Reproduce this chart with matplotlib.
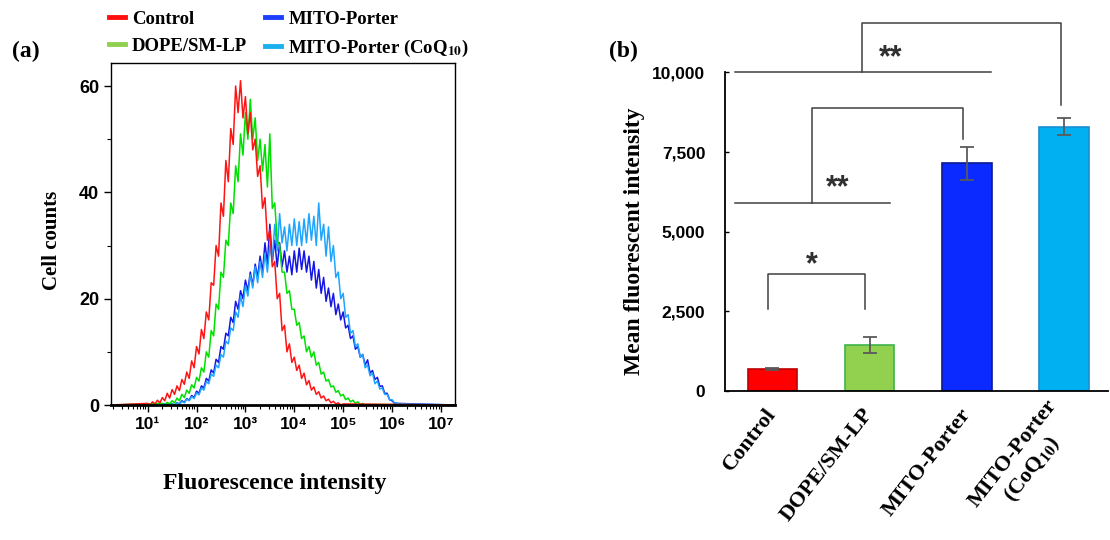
import matplotlib
matplotlib.use('Agg')
import matplotlib.pyplot as plt
from matplotlib.lines import Line2D
import numpy as np

plt.rcParams['mathtext.fontset'] = 'stix'

# ---- (a) flow cytometry histograms, counts every 0.05 decade ----
bin_step = 0.05
ctrl_start = 1.00
ctrl_counts = [0.3, 0.0, 0.6, 0.2, 0.9, 0.4, 1.4, 0.8, 2.2, 1.3,
               2.9, 2.0, 3.6, 2.7, 4.8, 3.9, 6.2, 5.0, 8.3, 7.0,
               11.0, 9.6, 14.2, 12.5, 17.5, 16.0, 23.0, 22.5, 30.0, 28.0,
               38.0, 35.5, 46.0, 42.0, 52.0, 49.0, 60.0, 55.0, 61.0, 54.0,
               58.0, 51.0, 55.0, 48.0, 50.0, 43.0, 45.0, 37.0, 39.0, 31.0,
               33.0, 26.0, 27.0, 20.0, 21.0, 14.0, 15.0, 10.0, 11.5, 8.0,
               9.0, 6.5, 7.5, 5.0, 6.0, 3.8, 4.6, 2.8, 3.4, 2.0,
               2.5, 1.3, 1.7, 0.8, 1.1, 0.4, 0.7, 0.2, 0.4, 0.0, 0.2]
dope_start = 1.30
dope_counts = [0.3, 0.0, 0.5, 0.2, 0.8, 0.4, 1.3, 0.8, 2.0, 1.4,
               2.8, 2.2, 3.8, 3.2, 5.2, 4.5, 7.0, 6.2, 10.0, 9.0,
               14.0, 13.0, 19.0, 18.0, 25.0, 24.0, 31.0, 30.0, 38.0, 36.0,
               45.0, 42.0, 51.0, 47.0, 55.0, 50.0, 57.5, 50.0, 54.0, 46.0,
               50.0, 44.0, 49.0, 41.0, 51.0, 37.0, 38.0, 31.0, 30.0, 25.0,
               25.0, 21.0, 21.5, 18.0, 18.0, 15.0, 15.5, 12.5, 13.0, 10.0,
               11.0, 9.0, 10.0, 7.5, 8.0, 5.8, 6.2, 4.5, 4.8, 3.4,
               3.6, 2.4, 2.7, 1.7, 2.0, 1.0, 1.3, 0.6, 0.9, 0.3,
               0.6, 0.1, 0.3, 0.0, 0.1]
mito_start = 1.50
mito_counts = [0.2, 0.0, 0.4, 0.2, 0.8, 0.5, 1.2, 0.9, 1.8, 1.4,
               2.6, 2.2, 3.6, 3.2, 5.0, 4.5, 6.6, 6.0, 8.6, 8.0,
               11.0, 10.5, 13.5, 13.0, 16.5, 15.5, 19.5, 18.0, 21.5, 20.0,
               23.5, 21.5, 25.0, 22.5, 26.5, 24.0, 28.0, 25.0, 30.5, 26.5,
               34.0, 27.0, 31.0, 26.0, 30.5, 26.0, 29.0, 25.0, 28.0, 24.5,
               29.0, 25.0, 29.5, 25.5, 29.0, 25.0, 28.0, 23.5, 27.0, 22.0,
               25.5, 21.0, 24.0, 19.5, 22.0, 18.5, 21.0, 17.0, 19.0, 16.0,
               17.5, 14.5, 15.0, 12.5, 13.0, 10.5, 11.0, 9.0, 9.5, 7.5,
               8.5, 6.0, 6.5, 4.8, 5.2, 3.5, 3.6, 2.2, 2.2, 1.0,
               0.8, 0.3, 0.3]
coq_start = 1.50
coq_counts = [0.2, 0.0, 0.4, 0.1, 0.7, 0.4, 1.1, 0.8, 1.6, 1.2,
              2.3, 1.9, 3.2, 2.8, 4.4, 4.0, 5.8, 5.4, 7.5, 7.0,
              9.5, 9.0, 12.0, 11.5, 14.5, 14.0, 17.5, 16.5, 20.5, 18.5,
              22.5, 20.5, 24.5, 22.0, 26.0, 23.0, 27.0, 24.0, 28.5, 25.0,
              30.0, 27.0, 34.0, 29.0, 36.0, 30.5, 33.5, 29.0, 34.0, 30.0,
              35.0, 30.0, 34.5, 30.0, 35.0, 30.5, 36.0, 31.0, 35.5, 30.0,
              38.0, 31.0, 34.0, 28.0, 33.5, 27.0, 30.0, 24.0, 25.0, 20.0,
              21.0, 16.5, 17.0, 13.5, 14.0, 11.0, 11.5, 9.0, 9.5, 7.0,
              7.5, 5.5, 6.0, 4.0, 4.5, 3.0, 3.2, 2.0, 2.0, 1.0,
              1.0, 0.4, 0.4, 0.1, 0.2]

hist_labels = ['Control', 'DOPE/SM-LP', 'MITO-Porter',
               r'MITO-Porter (CoQ$_{\mathbf{10}}$)']
hist_colors = ['#ff1414', '#00e000', '#1515e6', '#1ea5ff']
legend_colors = ['#ff1010', '#8fd14f', '#1f3fff', '#1ab0f0']

# ---- (b) mean fluorescent intensity ----
groups = ['Control', 'DOPE/SM-LP', 'MITO-Porter', 'MITO-Porter\n(CoQ$_{\\mathbf{10}}$)']
mfi = [690, 1445, 7140, 8290]
mfi_err = [25, 250, 510, 270]
bar_colors = ['#ff0000', '#92d050', '#0a2aff', '#00b0f0']
bar_edges = ['#c00000', '#3cb44a', '#0a1a90', '#1a8fd0']

SERIF = 'Liberation Serif'
SANS = ['Liberation Sans', 'DejaVu Sans']

fig = plt.figure(figsize=(11.1, 5.4), dpi=100)
ax1 = fig.add_axes([0.1, 0.25, 0.31, 0.634])
ax2 = fig.add_axes([0.653, 0.276, 0.345, 0.590])

xmin, xmax = 10 ** 0.25, 10 ** 7.29
order = [(mito_start, mito_counts, 2), (coq_start, coq_counts, 3),
         (dope_start, dope_counts, 1), (ctrl_start, ctrl_counts, 0)]
for start, counts, k in order:
    logs = start + bin_step * np.arange(len(counts))
    x = np.concatenate([[xmin], 10 ** logs, [xmax]])
    y = np.concatenate([[0], counts, [0]])
    ax1.plot(x, y, color=hist_colors[k], lw=1.1)

ax1.set_xscale('log')
ax1.set_xlim(xmin, xmax)
ax1.set_ylim(0, 64.4)
ax1.set_xticks([10 ** i for i in range(1, 8)])
ax1.set_xticklabels(['10¹', '10²', '10³', '10⁴', '10⁵', '10⁶', '10⁷'],
                    family=SANS, fontweight='bold', fontsize=12.5)
ax1.set_yticks([0, 20, 40, 60])
ax1.set_yticks([10, 30, 50], minor=True)
ax1.set_yticklabels(['0', '20', '40', '60'], family=SANS,
                    fontweight='bold', fontsize=13)
ax1.tick_params(direction='out', length=5, width=1)
ax1.tick_params(which='minor', direction='out', length=3, width=0.8)
for s in ax1.spines.values():
    s.set_linewidth(1.0)
ax1.spines['bottom'].set_linewidth(2.0)
ax1.set_xlabel('Fluorescence intensity', family=SERIF, fontweight='bold',
               fontsize=17)
ax1.xaxis.set_label_coords(0.475, -0.198)
ax1.set_ylabel('Cell counts', family=SERIF, fontweight='bold', fontsize=15)
ax1.yaxis.set_label_coords(-0.142, 0.48)

handles = [Line2D([], [], color=c, lw=3.5) for c in legend_colors]
fig.legend(handles, hist_labels, ncol=2, loc='upper left',
           bbox_to_anchor=(0.086, 1.005), frameon=False, handlelength=0.85,
           handletextpad=0.4, columnspacing=0.95, borderpad=0.2,
           labelspacing=0.55,
           prop={'family': SERIF, 'weight': 'bold', 'size': 13.5})

# bars
xpos = np.arange(len(groups))
ax2.bar(xpos, mfi, width=0.51, color=bar_colors, edgecolor=bar_edges,
        linewidth=1.2, zorder=2)
ax2.errorbar(xpos, mfi, yerr=mfi_err, fmt='none', ecolor='#5a5a5a',
             elinewidth=1.3, capsize=5, capthick=1.3, zorder=3)
ax2.set_xlim(-0.49, 3.45)
ax2.set_ylim(0, 10000)
ax2.set_yticks([0, 2500, 5000, 7500, 10000])
ax2.set_yticklabels(['0', '2,500', '5,000', '7,500', '10,000'],
                    family=SANS, fontweight='bold', fontsize=12.5)
ax2.set_xticks(xpos)
ax2.set_xticklabels(groups, family=SERIF, fontweight='bold', fontsize=16,
                    rotation=52, ha='right', va='center',
                    rotation_mode='anchor', multialignment='center')
ax2.tick_params(axis='x', length=0, pad=14)
ax2.tick_params(axis='y', direction='in', length=3, width=1, pad=14)
ax2.spines['top'].set_visible(False)
ax2.spines['right'].set_visible(False)
ax2.spines['left'].set_linewidth(1.3)
ax2.spines['bottom'].set_linewidth(1.3)
ax2.set_ylabel('Mean fluorescent intensity', family=SERIF,
               fontweight='bold', fontsize=17)
ax2.yaxis.set_label_coords(-0.209, 0.47)

# significance brackets
bk = dict(color='#404040', lw=1.1, clip_on=False, zorder=4)
ax2.plot([-0.05, -0.05, 0.95, 0.95], [2560, 3660, 3660, 2560], **bk)
ax2.plot([-0.39, 1.21], [5910, 5910], **bk)
ax2.plot([0.41, 0.41, 1.96, 1.96], [5910, 8870, 8870, 7900], **bk)
ax2.plot([-0.39, 2.25], [10000, 10000], **bk)
ax2.plot([0.925, 0.925, 2.965, 2.965], [10000, 11550, 11550, 8960], **bk)
star = dict(family=SANS, fontweight='bold', fontsize=22, ha='center',
            va='center', color='#303030')
ax2.text(0.41, 3950, '*', **star)
ax2.text(0.67, 6350, '**', **star)
ax2.text(1.22, 10430, '**', **star)

fig.text(0.023, 0.905, '(a)', family=SERIF, fontweight='bold', fontsize=17,
         va='center', ha='center')
fig.text(0.562, 0.905, '(b)', family=SERIF, fontweight='bold', fontsize=17,
         va='center', ha='center')

plt.savefig('out.png', dpi=100)
plt.close()
